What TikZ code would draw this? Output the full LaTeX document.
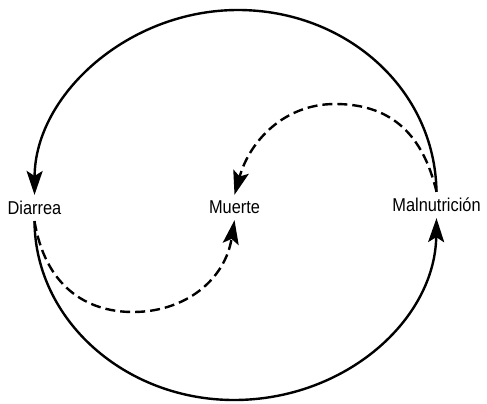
\documentclass[tikz,border=0pt]{standalone}
\usepackage{fontspec}
\setmainfont{Liberation Sans}[FakeStretch=0.88]
\usetikzlibrary{arrows.meta}
\begin{document}
\begin{tikzpicture}[x=1pt,y=-1pt,
  lbl/.style={font=\fontsize{18.6}{22}\selectfont, inner xsep=2pt, inner ysep=6pt},
  conn/.style={line width=2.4pt, -{Stealth[length=24pt,width=16pt,inset=5pt]}},
  dconn/.style={conn, dash pattern=on 10pt off 5pt}]
\useasboundingbox (0,0) rectangle (487,404);
\node[lbl] (D) at (34.5,208) {Diarrea};
\node[lbl] (M) at (234.5,207.5) {Muerte};
\node[lbl] (N) at (436.5,205) {Malnutrición};
% solid outer arcs
\draw[conn] (N.north) .. controls (435,88) and (345,10) .. (238,10)
  .. controls (128,10) and (35,95) .. (D.north);
\draw[conn] (D.south) .. controls (35,320) and (125,400) .. (234,400)
  .. controls (345,400) and (435,320) .. (N.south);
% dashed inner arcs
\draw[dconn] (N.north) .. controls (422,130) and (387,104) .. (335,104)
  .. controls (285,104) and (250,140) .. (M.north);
\draw[dconn] (D.south) .. controls (45,285) and (85,312) .. (133,312)
  .. controls (185,312) and (225,280) .. (M.south);
\end{tikzpicture}
\end{document}
